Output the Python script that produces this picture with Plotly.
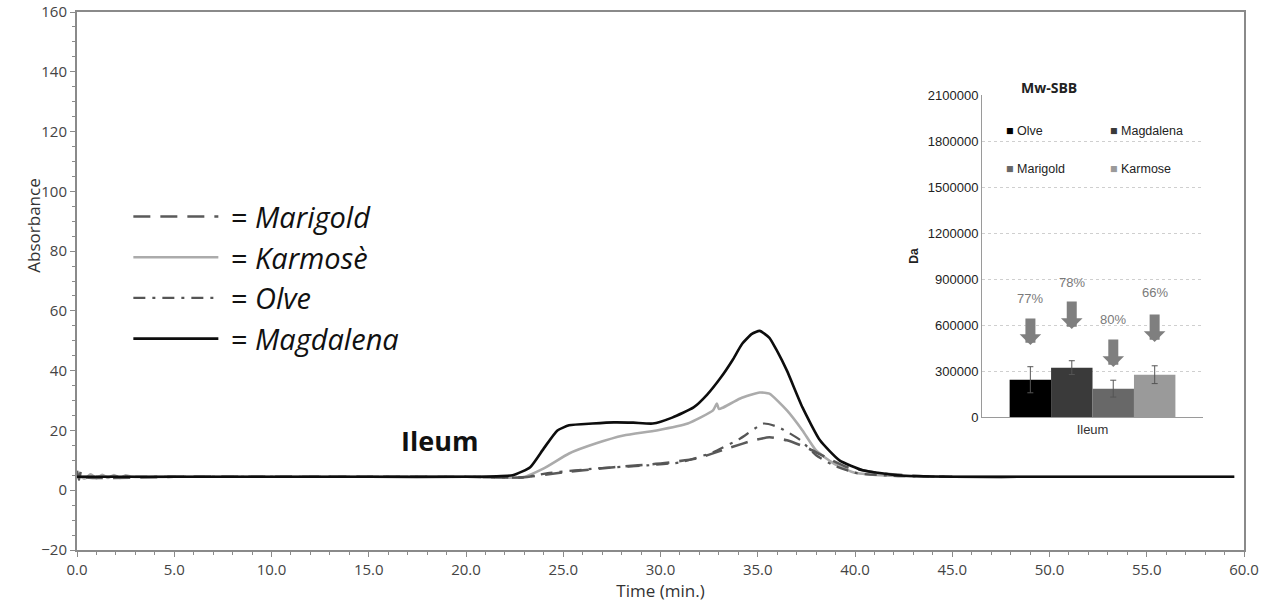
import plotly.graph_objects as go

# ---------------- chromatogram data (Time in min, Absorbance) ----------------
mag_t = [0.0, 5.0, 10.0, 15.0, 20.0, 22.4, 23.3, 24.0, 24.7, 25.3, 26.5, 27.6, 28.6, 29.6, 30.6,
         31.7, 32.4, 33.1, 33.7, 34.2, 34.7, 35.1, 35.6, 36.0, 36.5, 37.3, 38.2, 39.2,
         40.4, 42.2, 45.0, 50.0, 55.0, 59.5]
mag_v = [4.5, 4.5, 4.5, 4.5, 4.5, 5.0, 7.7, 14.0, 20.0, 21.7, 22.3, 22.7, 22.6, 22.3, 24.3,
         27.7, 32.0, 37.7, 43.5, 49.0, 52.3, 53.3, 51.0, 46.5, 40.0, 27.7, 16.7, 10.0,
         6.7, 5.0, 4.5, 4.5, 4.5, 4.5]

kar_t = [0.0, 0.4, 0.7, 1.0, 1.3, 1.6, 1.9, 2.2, 2.5, 2.8, 5.0, 10.0, 15.0, 20.0, 22.9,
         24.0, 25.3, 26.7, 28.1, 29.8, 31.4, 32.7, 32.9, 33.0, 33.2, 34.1, 35.1, 35.6,
         36.5, 37.3, 38.0, 38.9, 39.9, 41.3, 45.0, 50.0, 55.0, 59.5]
kar_v = [5.2, 3.9, 5.3, 4.0, 5.2, 4.1, 5.1, 4.1, 5.0, 4.5, 4.5, 4.5, 4.5, 4.5, 4.3,
         7.3, 12.3, 15.7, 18.3, 20.0, 22.3, 26.7, 29.0, 27.2, 27.6, 30.7, 32.7, 32.3,
         26.7, 20.0, 13.3, 9.0, 6.0, 5.0, 4.5, 4.5, 4.5, 4.5]

olv_t = [0.0, 5.0, 10.0, 15.0, 20.0, 22.9, 24.2, 26.7, 29.3, 31.0, 32.7, 34.1, 35.3,
         36.1, 37.2, 38.0, 38.9, 40.1, 42.0, 45.0]
olv_v = [4.5, 4.5, 4.5, 4.5, 4.5, 4.3, 5.7, 7.3, 8.3, 9.3, 12.7, 17.3, 22.3,
         21.0, 16.7, 11.7, 8.3, 5.7, 4.8, 4.5]

mar_t = [0.0, 0.1, 0.2, 0.3, 5.0, 10.0, 15.0, 20.0, 22.9, 25.0, 27.6, 30.1, 31.9, 33.6, 34.8,
         35.6, 36.5, 37.5, 38.6, 39.6, 41.3, 43.3, 45.0]
mar_v = [6.5, 3.5, 6.3, 4.5, 4.5, 4.5, 4.5, 4.5, 4.3, 6.0, 7.7, 9.0, 10.7, 14.3, 16.7,
         17.7, 16.7, 14.3, 10.7, 7.7, 5.7, 4.7, 4.5]

# ---------------- inset bar chart data (Mw-SBB, Da) ----------------
bar_names = ["Olve", "Magdalena", "Marigold", "Karmose"]
bar_values = [243000, 322000, 185000, 276000]
bar_errors = [85000, 45000, 55000, 58000]
bar_colors = ["#000000", "#3a3a3a", "#686868", "#9a9a9a"]
bar_category = ["Ileum"]
reduction_labels = ["77%", "78%", "80%", "66%"]

x_ticks = [0, 5, 10, 15, 20, 25, 30, 35, 40, 45, 50, 55, 60]
y_ticks = [-20, 0, 20, 40, 60, 80, 100, 120, 140, 160]
inset_ticks = [0, 300000, 600000, 900000, 1200000, 1500000, 1800000, 2100000]

fig = go.Figure()

sp = "\u00a0"
# main chromatogram traces (drawn light first, dark last)
fig.add_trace(go.Scatter(x=kar_t, y=kar_v, mode="lines", name=sp + "= <i>Karmosè</i>",
                         line=dict(color="#ababab", width=2.6, shape="spline", smoothing=0.5),
                         legendgroup="b", legendrank=2))
fig.add_trace(go.Scatter(x=mar_t, y=mar_v, mode="lines", name=sp + "= <i>Marigold</i>",
                         line=dict(color="#5a5a5a", width=2.6, dash="17px,10px", shape="spline", smoothing=0.5),
                         legendgroup="a", legendrank=1))
fig.add_trace(go.Scatter(x=olv_t, y=olv_v, mode="lines", name=sp + "= <i>Olve</i>",
                         line=dict(color="#555555", width=2.2, dash="12px,7px,3px,7px", shape="spline", smoothing=0.5),
                         legendgroup="c", legendrank=3))
fig.add_trace(go.Scatter(x=mag_t, y=mag_v, mode="lines", name=sp + "= <i>Magdalena</i>",
                         line=dict(color="#0d0d0d", width=2.6, shape="spline", smoothing=0.5),
                         legendgroup="d", legendrank=4))

# inset bars
for name, val, err, col in zip(bar_names, bar_values, bar_errors, bar_colors):
    fig.add_trace(go.Bar(x=bar_category, y=[val], name=name, marker=dict(color=col, line=dict(width=0)),
                         error_y=dict(type="data", array=[err], color="#555555", thickness=1, width=3),
                         xaxis="x2", yaxis="y2", showlegend=False))

x2_dom = [0.7755, 0.9649]
y2_dom = [0.2472, 0.8457]

axis_col = "#8a8a8a"
fig.update_layout(
    width=1280, height=605,
    margin=dict(l=77, r=36, t=12, b=55),
    paper_bgcolor="white", plot_bgcolor="rgba(0,0,0,0)",
    font=dict(family="Open Sans", color="#333333"),
    showlegend=True,
    legend=dict(x=0.044, y=0.667, xanchor="left", yanchor="top", bgcolor="rgba(0,0,0,0)",
                font=dict(family="Open Sans", size=29, color="#111111"), itemwidth=85,
                tracegroupgap=0, traceorder="grouped"),
    xaxis=dict(range=[0, 60], tickvals=x_ticks, ticktext=[f"{v:.1f}" for v in x_ticks],
               showline=True, linecolor=axis_col, linewidth=2, mirror=True, automargin=False,
               ticks="outside", ticklen=5, tickcolor=axis_col, tickwidth=1,
               minor=dict(dtick=1, ticks="outside", ticklen=3, tickcolor=axis_col),
               showgrid=False, zeroline=False,
               tickfont=dict(family="Open Sans", size=15, color="#444444"),
               title=dict(text="Time (min.)", font=dict(family="Open Sans", size=17, color="#333333"), standoff=0)),
    yaxis=dict(range=[-20, 160], tickvals=y_ticks,
               showline=True, linecolor=axis_col, linewidth=2, mirror=True, automargin=False,
               ticks="outside", ticklen=5, tickcolor=axis_col, tickwidth=1,
               minor=dict(dtick=5, ticks="outside", ticklen=3, tickcolor=axis_col),
               showgrid=False, zeroline=False,
               tickfont=dict(family="Open Sans", size=15, color="#444444")),
    xaxis2=dict(domain=x2_dom, anchor="y2", showline=True, linecolor="#9a9a9a", linewidth=1,
                automargin=False, ticks="", showgrid=False,
                tickfont=dict(family="Liberation Sans", size=13, color="#333333")),
    yaxis2=dict(domain=y2_dom, anchor="x2", range=[0, 2100000], tickvals=inset_ticks,
                ticktext=[str(v) for v in inset_ticks], automargin=False,
                showline=True, linecolor="#9a9a9a", linewidth=1, ticks="",
                showgrid=True, gridcolor="#cfcfcf", griddash="dot", gridwidth=1, zeroline=False,
                tickfont=dict(family="Liberation Sans", size=13, color="#222222"),
                title=dict(text="<b>Da</b>", font=dict(family="Liberation Sans", size=12, color="#222222"), standoff=6)),
    barmode="group", bargap=0.25, bargroupgap=0,
)

# y-axis title (placed above the axis centre as in the original)
fig.add_annotation(x=-0.0488, y=0.602, xref="paper", yref="paper", text="Absorbance", textangle=-90,
                   showarrow=False, font=dict(family="Open Sans", size=17, color="#333333"))

# "Ileum" label on main chart
fig.add_annotation(x=18.66, y=16.7, xref="x", yref="y", text="<b>Ileum</b>", showarrow=False,
                   font=dict(family="Open Sans", size=27, color="#111111"))

# inset title
fig.add_annotation(x=0.5 * (x2_dom[0] + x2_dom[1]) - 0.012, y=y2_dom[1] + 0.035, xref="paper", yref="paper",
                   text="<b>Mw-SBB</b>", showarrow=False,
                   font=dict(family="Open Sans", size=14, color="#222222"))

# inset legend (two columns)
leg_pos = [(0.0, 0.915), (0.47, 0.915), (0.0, 0.798), (0.47, 0.798)]
for (fx, fy), name, col in zip(leg_pos, bar_names, bar_colors):
    fig.add_annotation(x=x2_dom[0] + 0.019 + fx * (x2_dom[1] - x2_dom[0]),
                       y=y2_dom[0] + fy * (y2_dom[1] - y2_dom[0]),
                       xref="paper", yref="paper", xanchor="left", showarrow=False,
                       text=f"<span style='color:{col}'>■</span> {name}",
                       font=dict(family="Liberation Sans", size=12.5, color="#222222"))

# percentage labels with block arrows above bars
bar_offsets = [-0.281, -0.094, 0.094, 0.281]
label_y = [776000, 880000, 633000, 809000]
arrow_tail = [652000, 763000, 515000, 678000]
arrow_tip = [470000, 574000, 326000, 489000]
for off, lab, ly, at, ah in zip(bar_offsets, reduction_labels, label_y, arrow_tail, arrow_tip):
    fig.add_annotation(x=off, y=ly, xref="x2", yref="y2", text=lab, showarrow=False,
                       font=dict(family="Liberation Sans", size=13, color="#7a7a7a"))
    fig.add_annotation(x=off, y=ah, ax=off, ay=at, xref="x2", yref="y2", axref="x2", ayref="y2",
                       text="", showarrow=True, arrowhead=1, arrowsize=0.36, arrowwidth=10,
                       arrowcolor="#7f7f7f")

fig.write_html("out.html", config={"displayModeBar": False},
               post_script="document.body.style.margin='0px';")
